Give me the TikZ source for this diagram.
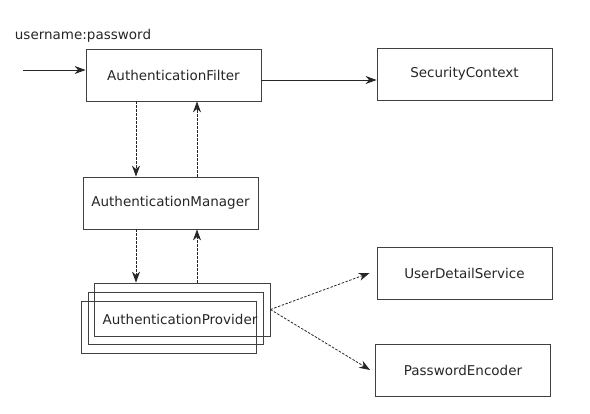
\documentclass[tikz,border=0pt]{standalone}
\usepackage{fontspec}
\setmainfont{DejaVu Sans}
\usetikzlibrary{positioning, calc, arrows.meta}

\begin{document}
\begin{tikzpicture}[x=1pt, y=-1pt, font=\fontsize{13.5}{16}\selectfont,
        box/.style={draw=black!75, line width=0.8pt, minimum width=175pt, minimum height=52pt, inner sep=0pt, text=black!85},
        flow/.style={-{Stealth[length=11pt, width=8pt, inset=3.5pt]}, line width=0.8pt, black!85},
        dflow/.style={flow, dash pattern=on 2.5pt off 1.5pt}]
        \useasboundingbox (0,0) rectangle (590,414);

        \node[text=black!85] (cred) at (83,36) {username:password};
        \coordinate (input) at (23,70);

        \node[box] (filter) at (173.5,75) {AuthenticationFilter};
        \node[box] (context) at (464.5,74) {SecurityContext};
        \node[box] (manager) at (170.5,203) {AuthenticationManager};

        \node[box] (provC) at (169,327.5) {};
        \node[box] (provB) at (175.5,318.5) {};
        \node[box, minimum width=176pt, minimum height=53pt] (provA) at (182,309.5) {};
        \node[text=black!85] (provider) at (180,319) {AuthenticationProvider};

        \node[box] (uds) at (464.5,273) {UserDetailService};
        \node[box] (encoder) at (463,370) {PasswordEncoder};

        \draw[flow] (input) -- (input -| filter.west);
        \draw[flow] ([yshift=-5pt]filter.east) -- ([yshift=-5pt]filter.east -| context.west);

        \draw[dflow] ([xshift=-37.5pt]filter.south) -- ([xshift=-37.5pt]filter.south |- manager.north);
        \draw[dflow] ([xshift=23.5pt]filter.south |- manager.north) -- ([xshift=23.5pt]filter.south);

        \draw[dflow] ([xshift=-34.5pt]manager.south) -- ([xshift=-34.5pt]manager.south |- provA.north);
        \draw[dflow] ([xshift=26.5pt]manager.south |- provA.north) -- ([xshift=26.5pt]manager.south);

        \draw[dflow] (provA.east) -- ([xshift=-7pt]uds.west);
        \draw[dflow] (provA.east) -- ([xshift=-5pt]encoder.west);
\end{tikzpicture}
\end{document}
